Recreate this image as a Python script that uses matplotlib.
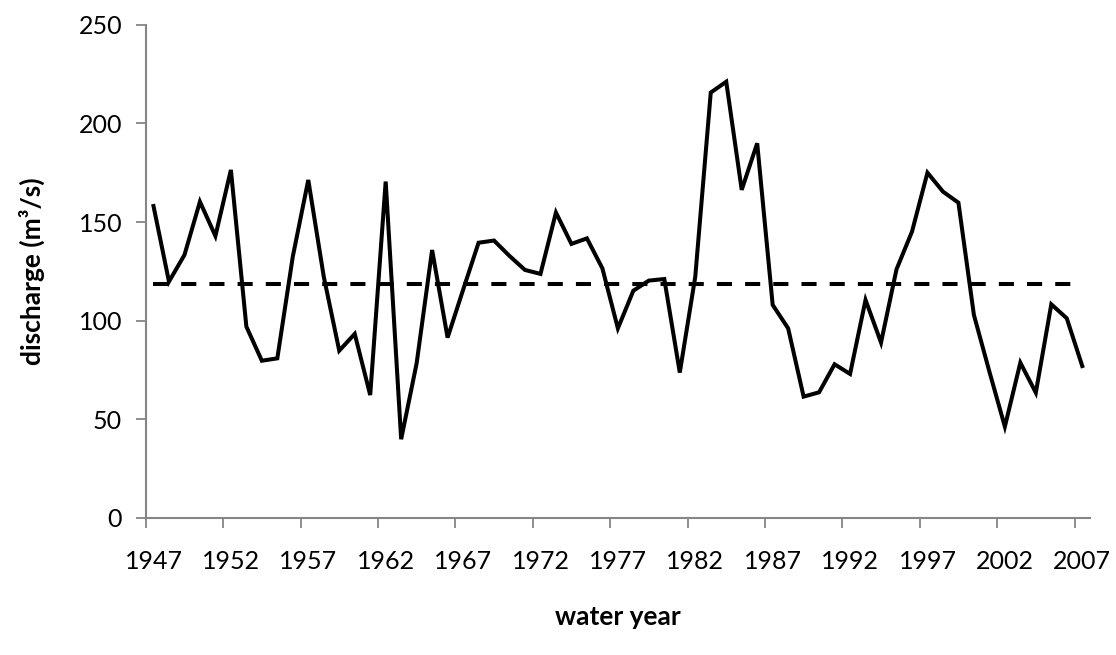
import matplotlib
matplotlib.use("Agg")
import matplotlib.pyplot as plt
from matplotlib.ticker import FixedLocator

years = list(range(1947, 2008))
discharge = [
    158.1, 119.8, 133.3, 160.3, 142.9, 176.4, 97.0, 79.7, 80.9, 132.5,
    171.3, 122.3, 84.8, 93.3, 62.3, 170.5, 39.9, 78.4, 135.8, 91.4,
    115.6, 139.5, 140.6, 132.8, 125.7, 123.7, 154.8, 138.9, 141.7, 126.5,
    96.1, 115.2, 120.3, 121.1, 73.7, 122.3, 215.6, 221.1, 166.3, 189.9,
    108.0, 96.1, 61.5, 63.7, 77.9, 73.0, 110.5, 88.9, 126.0, 145.1,
    175.0, 165.4, 159.8, 102.9, 74.2, 46.3, 78.7, 63.5, 108.3, 101.2,
    77.0,
]
mean_discharge = 118.6
tick_label_years = list(range(1947, 2008, 5))
y_ticks = [0, 50, 100, 150, 200, 250]

plt.rcParams['font.family'] = ['Lato', 'DejaVu Sans']

fig = plt.figure(figsize=(11.16, 6.55), dpi=100)
ax = fig.add_axes([0.1306, 0.2092, 0.8461, 0.7531])

ax.plot(years, discharge, color='black', linewidth=2.9, solid_joinstyle='miter')
ax.plot(years, [mean_discharge] * len(years), color='black', linewidth=2.9,
        linestyle=(0, (3.75, 3.25)))

ax.set_xlim(years[0] - 0.5, years[-1] + 0.5)
ax.set_ylim(0, 250)

ax.xaxis.set_major_locator(FixedLocator(tick_label_years))
ax.set_xticklabels([str(y) for y in tick_label_years])
ax.xaxis.set_minor_locator(FixedLocator([y - 0.5 for y in tick_label_years]))
ax.tick_params(axis='x', which='major', length=0, pad=23, labelsize=18, colors='black')
ax.tick_params(axis='x', which='minor', length=7, width=1.3, color='#868686')
ax.set_yticks(y_ticks)
ax.tick_params(axis='y', length=7, width=1.3, color='#868686', labelsize=18, pad=10)

for s in ['top', 'right']:
    ax.spines[s].set_visible(False)
for s in ['left', 'bottom']:
    ax.spines[s].set_color('#868686')
    ax.spines[s].set_linewidth(1.5)

ax.set_ylabel('discharge (m³/s)', fontsize=19, fontweight='bold', labelpad=24)
ax.set_xlabel('water year', fontsize=19, fontweight='bold', labelpad=23)

fig.savefig('out.png', dpi=100)
